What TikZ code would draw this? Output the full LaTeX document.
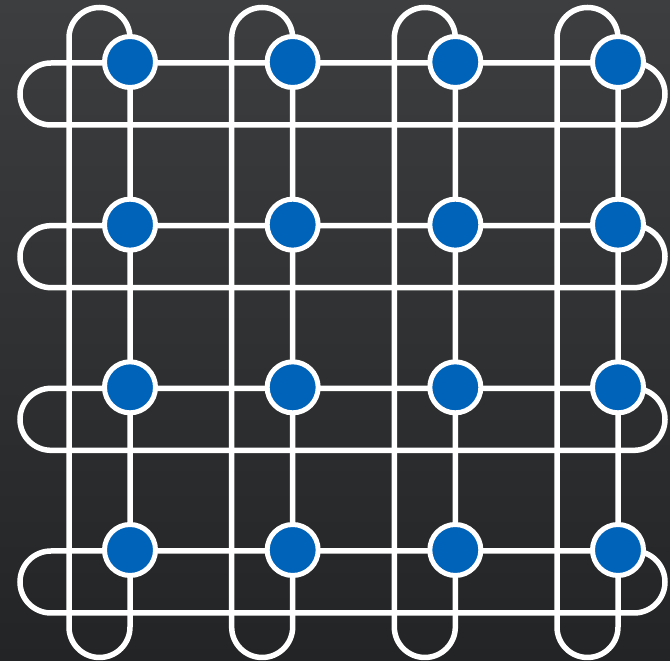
\documentclass[tikz,border=0pt]{standalone}
\definecolor{nodeblue}{RGB}{0,99,186}
\definecolor{bgtop}{RGB}{60,62,64}
\definecolor{bgbot}{RGB}{35,36,37}
\begin{document}
\begin{tikzpicture}[x=1pt,y=1pt,
  wire/.style={draw=white,line width=5.5pt},
  vtx/.style={circle,fill=nodeblue,draw=white,line width=5pt,minimum size=51pt,inner sep=0pt}]
\shade[top color=bgtop,bottom color=bgbot] (0,0) rectangle (670,661);
\useasboundingbox (0,0) rectangle (670,661);
% row loops (wrap-around)
\foreach \yy in {599,436.33,273.67,111}{
  \draw[wire] (51,\yy-1) -- (634,\yy-1) arc[start angle=90,end angle=-90,radius=31]
    -- (51,\yy-63) arc[start angle=270,end angle=90,radius=31] -- cycle;
}
% column loops (wrap-around)
\foreach \xx in {130,292.67,455.33,618}{
  \draw[wire] (\xx,623) -- (\xx,34) arc[start angle=0,end angle=-180,radius=30.5]
    -- (\xx-61,623) arc[start angle=180,end angle=0,radius=30.5] -- cycle;
}
% nodes
\foreach \r/\yy in {1/599,2/436.33,3/273.67,4/111}{
  \foreach \c/\xx in {1/130,2/292.67,3/455.33,4/618}{
    \node[vtx] (n\r\c) at (\xx,\yy) {};
  }
}
\end{tikzpicture}
\end{document}
